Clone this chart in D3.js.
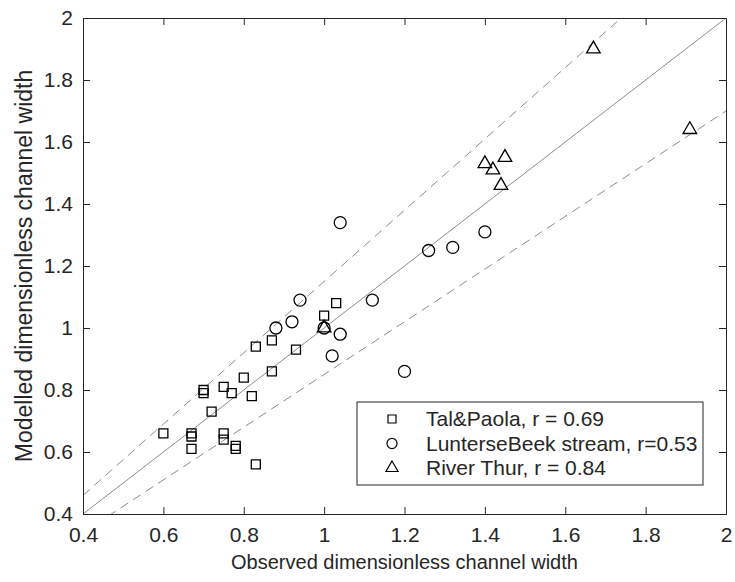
<!DOCTYPE html>
<html>
<head>
<meta charset="utf-8">
<script src="https://cdn.jsdelivr.net/npm/d3@7"></script>
<style>
  body { margin: 0; background: #fff; }
  text { font-family: "Liberation Sans", Arial, sans-serif; fill: #262626; }
</style>
</head>
<body>
<div id="container"></div>
<script>

var width = 735;
var height = 582;

// Tal&Paola (squares)
var talX = [0.60, 0.67, 0.67, 0.67, 0.70, 0.70, 0.72, 0.75, 0.75, 0.75, 0.77, 0.78, 0.78, 0.80, 0.82, 0.83, 0.83, 0.87, 0.87, 0.93, 1.00, 1.03];
var talY = [0.66, 0.66, 0.65, 0.61, 0.80, 0.79, 0.73, 0.81, 0.66, 0.64, 0.79, 0.62, 0.61, 0.84, 0.78, 0.94, 0.56, 0.96, 0.86, 0.93, 1.04, 1.08];

// LunterseBeek stream (circles)
var lunX = [0.88, 0.92, 0.94, 1.00, 1.02, 1.04, 1.04, 1.12, 1.20, 1.26, 1.32, 1.40];
var lunY = [1.00, 1.02, 1.09, 1.00, 0.91, 0.98, 1.34, 1.09, 0.86, 1.25, 1.26, 1.31];

// River Thur (triangles)
var thurX = [1.00, 1.40, 1.42, 1.44, 1.45, 1.67, 1.91];
var thurY = [1.00, 1.53, 1.51, 1.46, 1.55, 1.90, 1.64];

var legendLabels = ['Tal&Paola, r = 0.69', 'LunterseBeek stream, r=0.53', 'River Thur, r = 0.84'];
var ticks = [0.4, 0.6, 0.8, 1, 1.2, 1.4, 1.6, 1.8, 2];
var refRatios = [1, 1.15, 0.85];

var margin = {left: 83, right: 9, top: 18, bottom: 68};
var plotW = width - margin.left - margin.right;
var plotH = height - margin.top - margin.bottom;

var x = d3.scaleLinear().domain([0.4, 2]).range([0, plotW]);
var y = d3.scaleLinear().domain([0.4, 2]).range([plotH, 0]);

var svg = d3.select('#container')
	.append('svg')
	.attr('width', width)
	.attr('height', height);

svg.append('defs').append('clipPath')
	.attr('id', 'clip')
	.append('rect')
	.attr('width', plotW)
	.attr('height', plotH);

var g = svg.append('g')
	.attr('transform', 'translate(' + margin.left + ',' + margin.top + ')');

// reference lines: 1:1 and +-15%
var line = d3.line()
	.x(function(d){ return x(d[0]); })
	.y(function(d){ return y(d[1]); });

g.append('g').attr('clip-path', 'url(#clip)')
	.selectAll('.ref')
	.data(refRatios)
	.enter()
	.append('path')
	.attr('class', 'ref')
	.attr('d', function(r){ return line([[0.4, 0.4 * r], [2, 2 * r]]); })
	.style('fill', 'none')
	.style('stroke', '#8c8c8c')
	.style('stroke-width', 1)
	.style('stroke-dasharray', function(r){ return r == 1 ? null : '9,6'; });

// axes
var fmt = function(d){ return d3.format('')(+d.toFixed(1)); };

var xAxis = g.append('g')
	.attr('transform', 'translate(0,' + plotH + ')')
	.call(d3.axisBottom(x).tickValues(ticks).tickSize(-7).tickPadding(13).tickFormat(fmt));
var xTop = g.append('g')
	.call(d3.axisTop(x).tickValues(ticks).tickSize(-7).tickFormat(''));
var yAxis = g.append('g')
	.call(d3.axisLeft(y).tickValues(ticks).tickSize(-7).tickPadding(10).tickFormat(fmt));
var yRight = g.append('g')
	.attr('transform', 'translate(' + plotW + ',0)')
	.call(d3.axisRight(y).tickValues(ticks).tickSize(-7).tickFormat(''));

[xAxis, xTop, yAxis, yRight].forEach(function(a){
	a.select('.domain').style('stroke', '#262626');
	a.selectAll('.tick line').style('stroke', '#262626');
	a.selectAll('.tick text')
		.style('font-size', '21px')
		.style('fill', '#262626');
});
xAxis.selectAll('.tick text').attr('dy', '0.71em');

// axis titles
g.append('text')
	.attr('x', plotW / 2)
	.attr('y', plotH + 55)
	.attr('text-anchor', 'middle')
	.style('font-size', '20px')
	.text('Observed dimensionless channel width');

g.append('text')
	.attr('transform', 'translate(' + (-51) + ',' + (plotH / 2) + ') rotate(-90)')
	.attr('text-anchor', 'middle')
	.style('font-size', '23px')
	.text('Modelled dimensionless channel width');

// markers
var sq = d3.symbol().type(d3.symbolSquare).size(81);
var tri = d3.symbol().type(d3.symbolTriangle).size(80);

function markerStyle(sel){
	sel.style('fill', 'none')
		.style('stroke', '#000')
		.style('stroke-width', 1.3);
}

var plot = g.append('g');

plot.selectAll('.tal')
	.data(talX)
	.enter()
	.append('path')
	.attr('class', 'tal')
	.attr('d', sq)
	.attr('transform', function(d, i){ return 'translate(' + x(d) + ',' + y(talY[i]) + ')'; })
	.call(markerStyle);

plot.selectAll('.lun')
	.data(lunX)
	.enter()
	.append('circle')
	.attr('class', 'lun')
	.attr('cx', function(d){ return x(d); })
	.attr('cy', function(d, i){ return y(lunY[i]); })
	.attr('r', 6)
	.call(markerStyle);

plot.selectAll('.thur')
	.data(thurX)
	.enter()
	.append('path')
	.attr('class', 'thur')
	.attr('d', tri)
	.attr('transform', function(d, i){ return 'translate(' + x(d) + ',' + y(thurY[i]) + ')'; })
	.call(markerStyle);

// legend
var legend = g.append('g')
	.attr('transform', 'translate(' + (357 - margin.left) + ',' + (402 - margin.top) + ')');

legend.append('rect')
	.attr('width', 346)
	.attr('height', 83)
	.style('fill', '#fff')
	.style('stroke', '#262626')
	.style('stroke-width', 1);

var rows = legend.selectAll('.leg-row')
	.data(legendLabels)
	.enter()
	.append('g')
	.attr('class', 'leg-row')
	.attr('transform', function(d, i){ return 'translate(0,' + (17 + i * 24.5) + ')'; });

rows.append('path')
	.attr('transform', 'translate(35,0)')
	.attr('d', function(d, i){
		if (i == 0) return d3.symbol().type(d3.symbolSquare).size(64)();
		if (i == 1) return d3.symbol().type(d3.symbolCircle).size(80)();
		return d3.symbol().type(d3.symbolTriangle).size(64)();
	})
	.style('fill', 'none')
	.style('stroke', '#000')
	.style('stroke-width', 1.2);

rows.append('text')
	.attr('x', 69)
	.attr('dy', '0.35em')
	.style('font-size', '21px')
	.text(function(d){ return d; });

</script>
</body>
</html>
